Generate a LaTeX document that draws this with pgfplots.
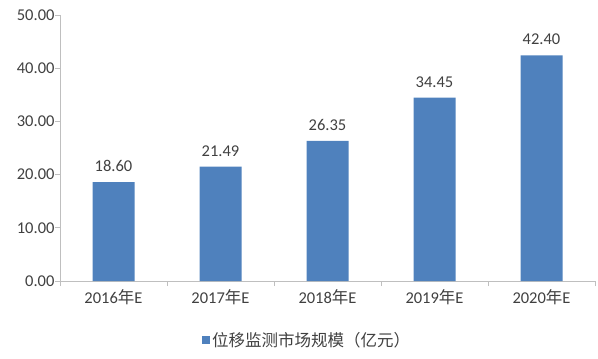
\documentclass[border=0pt]{standalone}
\usepackage{fontspec}
\setmainfont{Carlito}
\newfontfamily\cjk{Noto Sans CJK SC}
\usepackage{pgfplots}
\pgfplotsset{compat=1.18}
\definecolor{barblue}{HTML}{4F81BD}
\definecolor{txt}{HTML}{404040}
\definecolor{axgray}{HTML}{BFBFBF}
\begin{document}
\begin{tikzpicture}[x=1bp,y=1bp]
\useasboundingbox (-60,-77) rectangle (538,281);
\begin{axis}[
  at={(0,0)}, anchor=south west,
  scale only axis, width=535bp, height=266bp,
  xmin=-0.5, xmax=4.5, ymin=0, ymax=50,
  axis lines=left, axis line style={-, draw=axgray, line width=0.8pt},
  ytick={0,10,20,30,40,50},
  yticklabel style={xshift=3bp, /pgf/number format/.cd, fixed, fixed zerofill, precision=2, assume math mode=true},
  y tick style={draw=axgray, line width=0.8pt},
  ytick align=outside, major tick length=5bp,
  xtick={0,1,2,3,4},
  xticklabels={2016{\cjk 年}E,2017{\cjk 年}E,2018{\cjk 年}E,2019{\cjk 年}E,2020{\cjk 年}E},
  xticklabel style={yshift=-3bp},
  x tick style={draw=none},
  extra x ticks={-0.5,0.5,1.5,2.5,3.5,4.5},
  extra x tick labels={},
  extra x tick style={x tick style={draw=axgray, line width=0.8pt}, xtick align=outside, major tick length=5bp},
  tick label style={font=\fontsize{16.5bp}{19bp}\selectfont, text=txt},
  ytick pos=left, xtick pos=bottom,
  clip=false,
  legend style={at={(0.462,-0.222)}, anchor=center, draw=none, fill=none,
    font=\fontsize{16.5bp}{19bp}\selectfont\cjk, text=txt},
  legend image code/.code={\fill[barblue] (0bp,-4bp) rectangle (8bp,4bp);},
]
\addplot[ybar, bar width=42bp, fill=barblue, draw=none,
  nodes near coords, nodes near coords style={font=\fontsize{16.5bp}{19bp}\selectfont, text=txt, yshift=7bp, /pgf/number format/.cd, fixed, fixed zerofill, precision=2, assume math mode=true},
  point meta=y]
  coordinates {(0,18.60) (1,21.49) (2,26.35) (3,34.45) (4,42.40)};
\addlegendentry{位移监测市场规模（亿元）}
\end{axis}
\end{tikzpicture}
\end{document}
